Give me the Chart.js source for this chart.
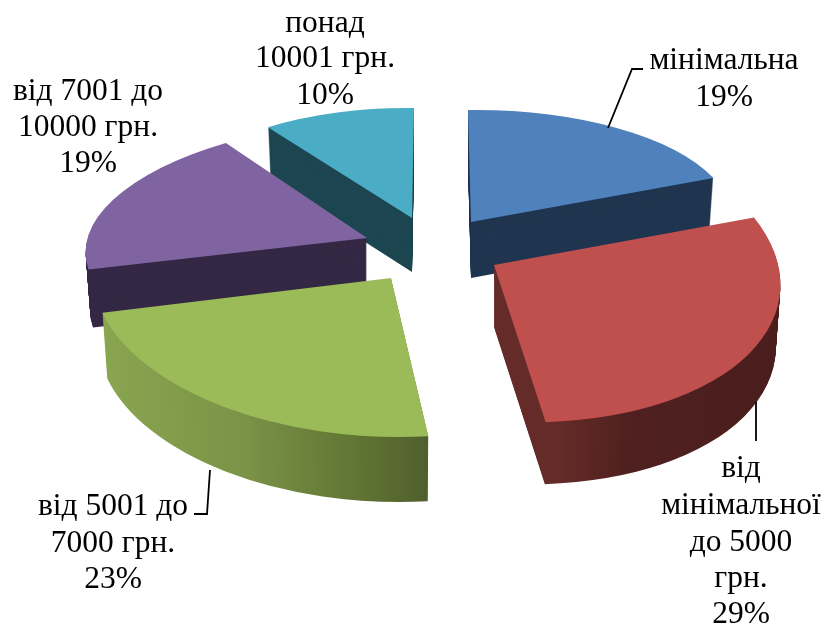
<!DOCTYPE html>
<html>
<head>
<meta charset="utf-8">
<script src="https://cdn.jsdelivr.net/npm/chart.js@4"></script>
<style>
  html, body { margin: 0; padding: 0; background: #fff; }
  canvas { display: block; }
</style>
</head>
<body>
<canvas id="pieChart" width="826" height="626"></canvas>
<script>
// Data
const categories = ["мінімальна", "від мінімальної до 5000 грн.", "від 5001 до 7000 грн.", "від 7001 до 10000 грн.", "понад 10001 грн."];
const shares = [19, 29, 23, 19, 10];

// Colours
const topColors = ["#4f81bd", "#c0504d", "#9bbb59", "#8064a2", "#4bacc6"];
const wallColors = ["#203550", "#4f201f", "#7c9648", "#342845", "#1d4651"];

// Fake 3D: each exploded slice gets its own shift and tilt, since the original
// has perspective (back slices look flatter than front ones)
const baseRadius = 285;
const shiftX = [58, 81, -22, -46, -1];
const shiftY = [-23, 20, 33, -7, -27];
const axisAx = [262, 286, 298, 280, 248];
const axisAy = [-3, 11, 5, -2, 3];
const axisBx = [3, 16, 0, -29, -2];
const axisBy = [112, 157, 159, 119, 110];
const depth = [56, 62, 65, 58, 54];
const wallShrink = 0.016;
const drawOrder = [4, 0, 3, 2, 1];

// Label text, split the way the reference wraps it
const labelLines = [
  ["мінімальна", "19%"],
  ["від", "мінімальної", "до 5000", "грн.", "29%"],
  ["від 5001 до", "7000 грн.", "23%"],
  ["від 7001 до", "10000 грн.", "19%"],
  ["понад", "10001 грн.", "10%"]
];
const labelX = [724, 741, 113, 88, 325];
const labelY = [
  [69, 106],
  [477, 514, 551, 587, 623],
  [515, 552, 588],
  [100, 136, 172],
  [32, 67, 104]
];
const leaders = [
  [[608, 128], [632, 69], [643, 69]],
  [[756, 402], [756, 441]],
  [[210, 470], [207, 514], [194, 514]]
];

function wallFill(ctx, i, arc) {
  if (i === 1) {
    const g = ctx.createLinearGradient(arc.x + 50, 0, arc.x + 285, 0);
    g.addColorStop(0, "#642b28");
    g.addColorStop(0.3, "#4f201f");
    g.addColorStop(1, "#4a1e1d");
    return g;
  }
  if (i === 2) {
    const g = ctx.createLinearGradient(arc.x - 285, 0, arc.x + 36, 0);
    g.addColorStop(0, "#8aa650");
    g.addColorStop(0.45, "#7a9347");
    g.addColorStop(0.75, "#647836");
    g.addColorStop(1, "#505f2c");
    return g;
  }
  return wallColors[i];
}

function drawSlice(ctx, arc, i, lift, fill) {
  const original = arc.options;
  const shrink = 1 - wallShrink * lift / depth[i];
  arc.options = { ...original, backgroundColor: fill };
  ctx.save();
  ctx.translate(arc.x + shiftX[i], arc.y + shiftY[i] + lift);
  ctx.transform(
    axisAx[i] * shrink / baseRadius, axisAy[i] / baseRadius,
    axisBx[i] * shrink / baseRadius, axisBy[i] / baseRadius,
    0, 0
  );
  ctx.translate(-arc.x, -arc.y);
  arc.draw(ctx);
  ctx.restore();
  arc.options = original;
}

const tiltedPie = {
  id: "tiltedPie",
  beforeDatasetDraw(chart, args) {
    const ctx = chart.ctx;
    const arcs = args.meta.data;
    drawOrder.forEach(i => {
      const fill = wallFill(ctx, i, arcs[i]);
      for (let d = depth[i]; d > 0; d--) drawSlice(ctx, arcs[i], i, d, fill);
      drawSlice(ctx, arcs[i], i, 0, topColors[i]);
    });
    return false;
  }
};

const outsideLabels = {
  id: "outsideLabels",
  afterDraw(chart) {
    const ctx = chart.ctx;
    ctx.save();
    ctx.strokeStyle = "#000";
    ctx.lineWidth = 1.8;
    leaders.forEach(line => {
      ctx.beginPath();
      line.forEach((p, n) => n ? ctx.lineTo(p[0], p[1]) : ctx.moveTo(p[0], p[1]));
      ctx.stroke();
    });
    ctx.fillStyle = "#000";
    ctx.font = '31.5px "Liberation Serif"';
    ctx.textAlign = "center";
    ctx.textBaseline = "alphabetic";
    labelLines.forEach((lines, i) => {
      lines.forEach((text, n) => ctx.fillText(text, labelX[i], labelY[i][n]));
    });
    ctx.restore();
  }
};

new Chart(document.getElementById("pieChart").getContext("2d"), {
  type: "pie",
  data: {
    labels: categories,
    datasets: [{
      data: shares,
      backgroundColor: topColors,
      borderWidth: 0
    }]
  },
  options: {
    responsive: false,
    animation: false,
    devicePixelRatio: 1,
    radius: baseRadius,
    layout: { padding: { bottom: 136 } },
    plugins: {
      legend: { display: false },
      tooltip: { enabled: false }
    }
  },
  plugins: [tiltedPie, outsideLabels]
});
</script>
</body>
</html>
